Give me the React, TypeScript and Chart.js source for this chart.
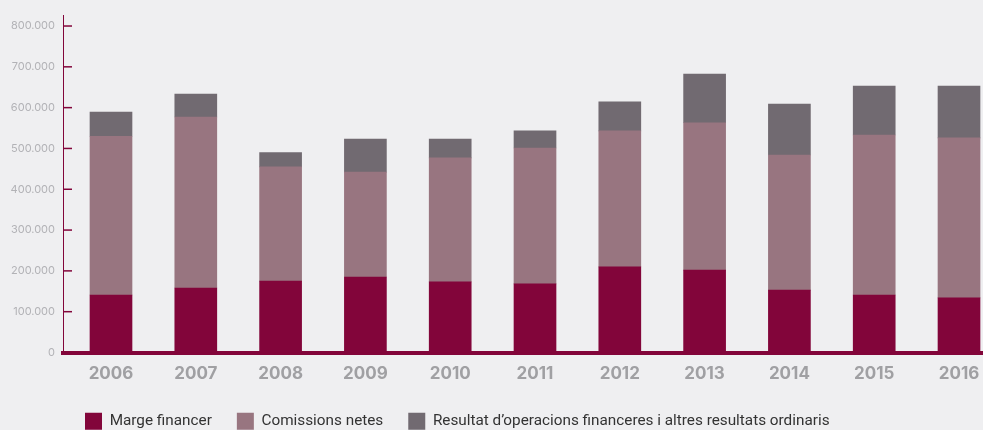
import React, { useEffect, useRef } from 'react';
import { Chart, registerables } from 'chart.js';

Chart.register(...registerables);

const years = ['2006', '2007', '2008', '2009', '2010', '2011', '2012', '2013', '2014', '2015', '2016'];
const margeFinancer = [141000, 158000, 175000, 185000, 173000, 168000, 210000, 202000, 153000, 141000, 134000];
const comissionsNetes = [389000, 419000, 280000, 257000, 304000, 333000, 333000, 361000, 331000, 392000, 392000];
const resultatOperacions = [59000, 56000, 35000, 81000, 46000, 42000, 71000, 119000, 125000, 120000, 127000];
const yTickValues = [0, 100000, 200000, 300000, 400000, 500000, 600000, 700000, 800000];
const seriesNames = [
  'Marge financer',
  'Comissions netes',
  'Resultat d\u2019operacions financeres i altres resultats ordinaris',
];

const CRIMSON = '#82053a';
const MAUVE = '#987580';
const GREY = '#716a71';
const BG = '#efeff1';

const fmt = (v: number) => String(Math.round(v)).replace(/\B(?=(\d{3})+(?!\d))/g, '.');

const yTickMarks = {
  id: 'yTickMarks',
  afterDatasetsDraw(chart: any) {
    const { ctx, chartArea, scales } = chart;
    const y = scales.y;
    ctx.save();
    ctx.strokeStyle = CRIMSON;
    ctx.lineWidth = 1.5;
    y.ticks.forEach((t: any) => {
      const py = y.getPixelForValue(t.value);
      ctx.beginPath();
      ctx.moveTo(chartArea.left, py);
      ctx.lineTo(chartArea.left + 9, py);
      ctx.stroke();
    });
    ctx.restore();
  },
};

const legendShift = {
  id: 'legendShift',
  afterLayout(chart: any) {
    if (chart.legend) {
      chart.legend.left += 60;
    }
  },
};

export default function App() {
  const ref = useRef<HTMLCanvasElement | null>(null);

  useEffect(() => {
    if (!ref.current) return;
    const chart = new Chart(ref.current, {
      type: 'bar',
      data: {
        labels: years,
        datasets: [
          { label: seriesNames[0], data: margeFinancer, backgroundColor: CRIMSON, borderWidth: 0 },
          { label: seriesNames[1], data: comissionsNetes, backgroundColor: MAUVE, borderWidth: 0 },
          { label: seriesNames[2], data: resultatOperacions, backgroundColor: GREY, borderWidth: 0 },
        ],
      },
      options: {
        responsive: false,
        animation: false,
        layout: { padding: { top: 15, left: 0, right: 0, bottom: -9.7 } },
        datasets: { bar: { barThickness: 42 } },
        plugins: {
          tooltip: { enabled: false },
          legend: {
            position: 'bottom',
            align: 'start',
            labels: {
              boxWidth: 17,
              boxHeight: 17,
              padding: 25,
              color: '#333333',
              font: { family: 'Roboto', size: 15.3 },
            },
          },
        },
        scales: {
          x: {
            type: 'linear',
            stacked: true,
            offset: false,
            min: 2005.434,
            max: 2017.073,
            grid: { display: false, drawTicks: false },
            border: { display: true, color: CRIMSON, width: 4 },
            afterBuildTicks: (scale: any) => {
              scale.ticks = years.map((y) => ({ value: Number(y) }));
            },
            afterFit: (scale: any) => {
              scale.height = 35.2;
            },
            ticks: {
              autoSkip: false,
              maxRotation: 0,
              padding: 11,
              color: '#a0a0a3',
              font: { family: 'Inter', size: 17, weight: 'bold' },
              callback: (v: any) => String(v),
            },
          },
          y: {
            stacked: true,
            min: 0,
            max: 827000,
            grid: { display: false, drawTicks: false },
            border: { display: true, color: CRIMSON, width: 1 },
            afterBuildTicks: (scale: any) => {
              scale.ticks = yTickValues.map((v) => ({ value: v }));
            },
            afterFit: (scale: any) => {
              scale.width = 63;
            },
            ticks: {
              padding: 8,
              color: '#b2b2b6',
              font: { family: 'Inter', size: 11 },
              callback: (v: any) => fmt(Number(v)),
            },
          },
        },
      },
      plugins: [yTickMarks, legendShift],
    } as any);
    return () => chart.destroy();
  }, []);

  return (
    <div
      style={{
        position: 'fixed',
        left: 0,
        top: 0,
        width: 983,
        height: 430,
        overflow: 'hidden',
        background: BG,
      }}
    >
      <canvas ref={ref} width={1050} height={430} style={{ display: 'block' }} />
    </div>
  );
}
